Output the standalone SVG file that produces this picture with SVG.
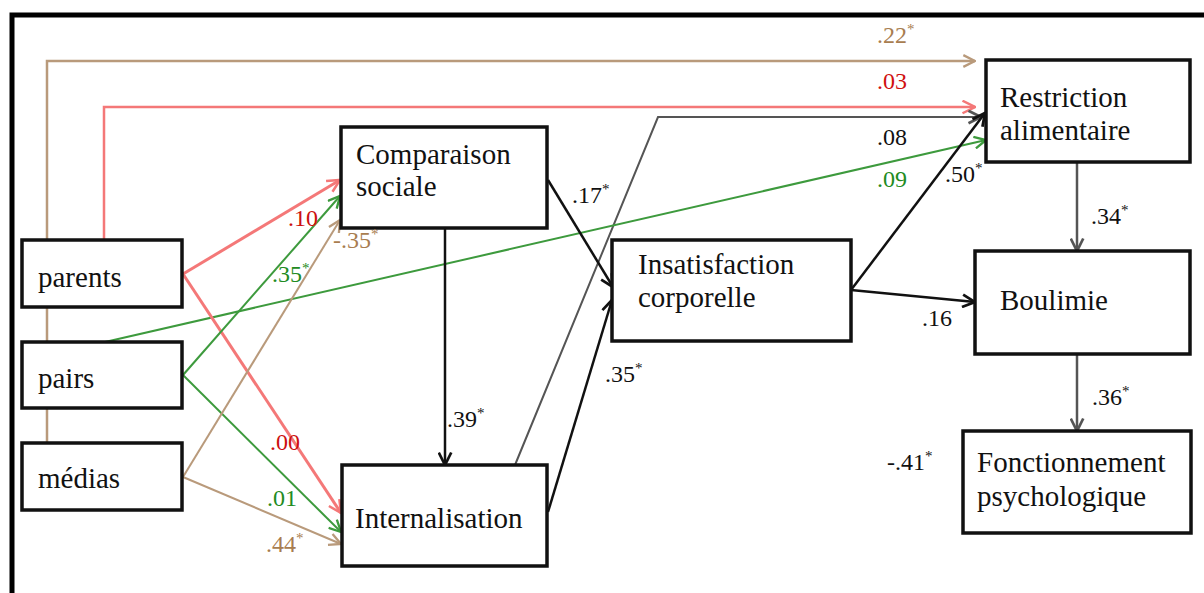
<svg xmlns="http://www.w3.org/2000/svg" width="1204" height="593" viewBox="0 0 1204 593">
<style>
.box{fill:#fff;stroke:#111;stroke-width:3.5}
.nt{font-size:29px;fill:#111}
.lb{font-size:24px}
.sup{font-size:15px}
.c{fill:none}
.tan{stroke:#b99a7b;stroke-width:2.5}
.red{stroke:#f47878;stroke-width:3}
.grn{stroke:#3d9a3d;stroke-width:2}
.blk{stroke:#111;stroke-width:2.5}
.gry{stroke:#555;stroke-width:2.5}
</style>
<defs>
<marker id="mt" viewBox="0 0 12 12" refX="11" refY="6" markerWidth="14" markerHeight="14" markerUnits="userSpaceOnUse" orient="auto"><path d="M1,1 L11,6 L1,11" fill="none" stroke="#b99a7b" stroke-width="2"/></marker>
<marker id="mr" viewBox="0 0 12 12" refX="11" refY="6" markerWidth="15" markerHeight="15" markerUnits="userSpaceOnUse" orient="auto"><path d="M1,1 L11,6 L1,11" fill="none" stroke="#f47878" stroke-width="2"/></marker>
<marker id="mg" viewBox="0 0 12 12" refX="11" refY="6" markerWidth="14" markerHeight="14" markerUnits="userSpaceOnUse" orient="auto"><path d="M1,1 L11,6 L1,11" fill="none" stroke="#3d9a3d" stroke-width="2"/></marker>
<marker id="mb" viewBox="0 0 12 12" refX="11" refY="6" markerWidth="15" markerHeight="15" markerUnits="userSpaceOnUse" orient="auto"><path d="M1,1 L11,6 L1,11" fill="none" stroke="#111" stroke-width="2.2"/></marker>
<marker id="my" viewBox="0 0 12 12" refX="11" refY="6" markerWidth="15" markerHeight="15" markerUnits="userSpaceOnUse" orient="auto"><path d="M1,1 L11,6 L1,11" fill="none" stroke="#555" stroke-width="2.2"/></marker>
</defs>
<rect width="1204" height="593" fill="#fff"/>
<path d="M12,593 V15 H1204" fill="none" stroke="#000" stroke-width="5"/>
<g id="connectors">
<path class="c tan" d="M47,443 V61 H975" marker-end="url(#mt)"/>
<path class="c red" d="M104,240 V107 H975" marker-end="url(#mr)" style="stroke-width:2.5"/>
<path class="c gry" d="M515,465 L658,117 H981" marker-end="url(#my)" style="stroke-width:2"/>
<path class="c grn" d="M105,342 L986,140" marker-end="url(#mg)"/>
<path class="c blk" d="M851,290 L985,113" marker-end="url(#mb)"/>
<path class="c blk" d="M851,290 L975,302" marker-end="url(#mb)"/>
<path class="c gry" d="M1077,162 V251" marker-end="url(#my)"/>
<path class="c gry" d="M1077,354 V431" marker-end="url(#my)"/>
<path class="c blk" d="M548,180 L613,287" marker-end="url(#mb)"/>
<path class="c blk" d="M548,512 L612,300" marker-end="url(#mb)"/>
<path class="c blk" d="M445,228 V465" marker-end="url(#mb)"/>
<path class="c red" d="M183,274 L340,180" marker-end="url(#mr)"/>
<path class="c red" d="M183,274 L341,513" marker-end="url(#mr)"/>
<path class="c grn" d="M183,375 L340,196" marker-end="url(#mg)"/>
<path class="c grn" d="M183,375 L341,532" marker-end="url(#mg)"/>
<path class="c tan" d="M183,477 L340,220" marker-end="url(#mt)" style="stroke-width:2"/>
<path class="c tan" d="M183,477 L341,544" marker-end="url(#mt)" style="stroke-width:2"/>
</g>
<g font-family="Liberation Serif, serif">
<g id="parents"><rect class="box" x="22" y="240" width="160" height="67"/><text class="nt" x="38" y="287">parents</text></g>
<g id="pairs"><rect class="box" x="22" y="342" width="160" height="66"/><text class="nt" x="38" y="388">pairs</text></g>
<g id="medias"><rect class="box" x="22" y="443" width="160" height="67"/><text class="nt" x="38" y="488">médias</text></g>
<g id="comparaison"><rect class="box" x="341" y="127" width="206" height="101"/><text class="nt" x="356" y="164">Comparaison</text><text class="nt" x="356" y="196">sociale</text></g>
<g id="internalisation"><rect class="box" x="342" y="465" width="205" height="101"/><text class="nt" x="355" y="528">Internalisation</text></g>
<g id="insatisfaction"><rect class="box" x="612" y="240" width="239" height="101"/><text class="nt" x="638" y="274">Insatisfaction</text><text class="nt" x="638" y="307">corporelle</text></g>
<g id="restriction"><rect class="box" x="986" y="60" width="204" height="102"/><text class="nt" x="1000" y="107">Restriction</text><text class="nt" x="1000" y="140">alimentaire</text></g>
<g id="boulimie"><rect class="box" x="975" y="251" width="215" height="103"/><text class="nt" x="1000" y="310">Boulimie</text></g>
<g id="fonctionnement"><rect class="box" x="963" y="431" width="228" height="102"/><text class="nt" x="977" y="472">Fonctionnement</text><text class="nt" x="977" y="506">psychologique</text></g>
<g id="labels">
<text class="lb" x="877" y="43" fill="#a87d50">.22<tspan class="sup" dy="-9">*</tspan></text>
<text class="lb" x="877" y="89" fill="#d01010">.03</text>
<text class="lb" x="877" y="145" fill="#111">.08</text>
<text class="lb" x="877" y="187" fill="#228b22">.09</text>
<text class="lb" x="945" y="182" fill="#111">.50<tspan class="sup" dy="-9">*</tspan></text>
<text class="lb" x="572" y="203" fill="#111">.17<tspan class="sup" dy="-9">*</tspan></text>
<text class="lb" x="288" y="226" fill="#cc1010">.10</text>
<text class="lb" x="333" y="248" fill="#a87d50">-.35<tspan class="sup" dy="-9">*</tspan></text>
<text class="lb" x="272" y="282" fill="#228b22">.35<tspan class="sup" dy="-9">*</tspan></text>
<text class="lb" x="447" y="427" fill="#111">.39<tspan class="sup" dy="-9">*</tspan></text>
<text class="lb" x="605" y="382" fill="#111">.35<tspan class="sup" dy="-9">*</tspan></text>
<text class="lb" x="922" y="326" fill="#111">.16</text>
<text class="lb" x="1091" y="224" fill="#111">.34<tspan class="sup" dy="-9">*</tspan></text>
<text class="lb" x="1092" y="405" fill="#111">.36<tspan class="sup" dy="-9">*</tspan></text>
<text class="lb" x="887" y="470" fill="#111">-.41<tspan class="sup" dy="-9">*</tspan></text>
<text class="lb" x="270" y="450" fill="#cc1010">.00</text>
<text class="lb" x="267" y="506" fill="#228b22">.01</text>
<text class="lb" x="266" y="552" fill="#a87d50">.44<tspan class="sup" dy="-9">*</tspan></text>
</g>
</g>
</svg>
